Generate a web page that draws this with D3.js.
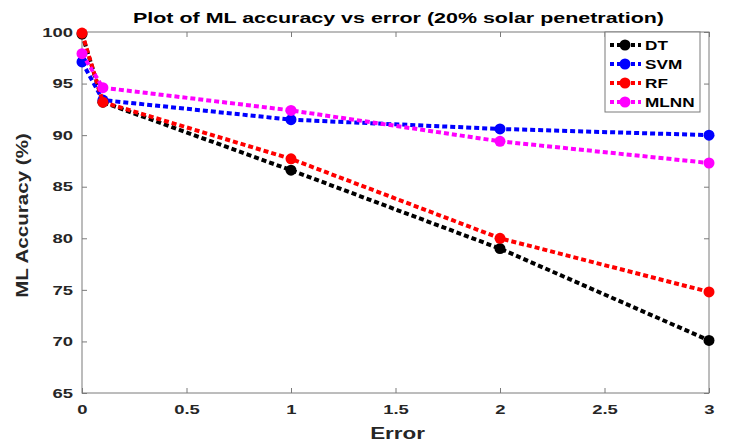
<!DOCTYPE html>
<html>
<head>
<meta charset="utf-8">
<script src="https://cdn.jsdelivr.net/npm/d3@7"></script>
<style>
  body { margin: 0; background: #fff; }
  text { font-family: "Liberation Sans", Arial, sans-serif; }
</style>
</head>
<body>
<div id="chart"></div>
<script>
var errors = [0, 0.1, 1, 2, 3],
    dtAcc = [99.8, 93.2, 86.6, 79.0, 70.1],
    svmAcc = [97.1, 93.4, 91.5, 90.6, 90.0],
    rfAcc = [99.9, 93.2, 87.7, 80.0, 74.8],
    mlnnAcc = [97.9, 94.6, 92.4, 89.4, 87.3],
    seriesNames = ["DT", "SVM", "RF", "MLNN"],
    seriesColors = ["#000000", "#0000ff", "#ff0000", "#ff00ff"],
    xTicks = [0, 0.5, 1, 1.5, 2, 2.5, 3],
    yTicks = [65, 70, 75, 80, 85, 90, 95, 100];

var outerWidth = 731, outerHeight = 443,
    margin = {left: 82, top: 32, right: 22, bottom: 50},
    width = outerWidth - margin.left - margin.right,
    height = outerHeight - margin.top - margin.bottom;

var series = [dtAcc, svmAcc, rfAcc, mlnnAcc].map(function(vals, i) {
  return {name: seriesNames[i], color: seriesColors[i],
          values: vals.map(function(v, j) { return {x: errors[j], y: v}; })};
});

var xScale = d3.scaleLinear().domain([0, 3]).range([0, width]),
    yScale = d3.scaleLinear().domain([65, 100]).range([height, 0]);

var svg = d3.select("#chart").append("svg")
    .attr("width", outerWidth)
    .attr("height", outerHeight)
  .append("g")
    .attr("transform", "translate(" + margin.left + "," + margin.top + ")");

var axisColor = "#7a7a7a", labelColor = "#262626";

// the picture is stretched sideways, so text gets a horizontal scale
function stretch(sel, s) {
  sel.each(function() {
    var t = d3.select(this), x = +t.attr("x") || 0, y = +t.attr("y") || 0;
    t.attr("x", 0).attr("y", 0)
     .attr("transform", "translate(" + x + "," + y + ") scale(" + s + ",1)");
  });
}

// box + axes with inward ticks
svg.append("rect")
    .attr("width", width).attr("height", height)
    .style("fill", "none").style("stroke", axisColor).style("stroke-width", 1);

var xAxis = d3.axisBottom(xScale).tickValues(xTicks).tickSizeInner(-5).tickSizeOuter(0).tickPadding(12)
    .tickFormat(d3.format("~g"));
var yAxis = d3.axisLeft(yScale).tickValues(yTicks).tickSizeInner(-5).tickSizeOuter(0).tickPadding(9);

svg.append("g").attr("class", "xAxis")
    .attr("transform", "translate(0," + height + ")").call(xAxis);
svg.append("g").attr("class", "yAxis").call(yAxis);
svg.append("g").attr("class", "xTop")
    .call(d3.axisTop(xScale).tickValues(xTicks).tickSizeInner(-5).tickSizeOuter(0).tickFormat(""));
svg.append("g").attr("class", "yRight")
    .attr("transform", "translate(" + width + ",0)")
    .call(d3.axisRight(yScale).tickValues(yTicks).tickSizeInner(-5).tickSizeOuter(0).tickFormat(""));

svg.selectAll(".domain").remove();
svg.selectAll(".tick line").style("stroke", axisColor);
svg.selectAll(".xAxis .tick text, .yAxis .tick text")
    .style("font-size", "13px").style("font-weight", "bold").style("fill", labelColor);
stretch(svg.selectAll(".xAxis .tick text, .yAxis .tick text"), 1.42);

// lines
var line = d3.line().x(function(d) { return xScale(d.x); }).y(function(d) { return yScale(d.y); });

var layer = svg.selectAll(".series")
    .data(series)
    .enter().append("g")
    .attr("class", "series");

layer.append("path")
    .attr("d", function(d) { return line(d.values); })
    .style("fill", "none")
    .style("stroke", function(d) { return d.color; })
    .style("stroke-width", 4)
    .style("stroke-dasharray", "5,3");

layer.selectAll(".pt")
    .data(function(d) { return d.values.map(function(v) { return {x: v.x, y: v.y, color: d.color}; }); })
    .enter().append("circle")
    .attr("class", "pt")
    .attr("cx", function(d) { return xScale(d.x); })
    .attr("cy", function(d) { return yScale(d.y); })
    .attr("r", 5.5)
    .style("fill", function(d) { return d.color; });

// title and axis labels
svg.append("text")
    .attr("x", width / 2 + 3).attr("y", -9)
    .attr("text-anchor", "middle")
    .style("font-size", "15px").style("font-weight", "bold").style("fill", "#000")
    .text("Plot of ML accuracy vs error (20% solar penetration)")
    .call(stretch, 1.43);

svg.append("text")
    .attr("x", width / 2 + 2).attr("y", height + 46)
    .attr("text-anchor", "middle")
    .style("font-size", "16px").style("font-weight", "bold").style("fill", labelColor)
    .text("Error")
    .call(stretch, 1.4);

svg.append("text")
    .attr("transform", "translate(" + (-54) + "," + (height / 2 + 3) + ") rotate(-90) scale(1.21,1)")
    .attr("text-anchor", "middle")
    .style("font-size", "17px").style("font-weight", "bold").style("fill", labelColor)
    .text("ML Accuracy (%)");

// legend
var legend = svg.append("g")
    .attr("class", "legend")
    .attr("transform", "translate(" + (width - 104) + ",0)");

legend.append("rect")
    .attr("width", 95).attr("height", 80)
    .style("fill", "#fff").style("stroke", axisColor);

var item = legend.selectAll(".item")
    .data(series)
    .enter().append("g")
    .attr("class", "item")
    .attr("transform", function(d, i) { return "translate(0," + (13 + i * 19) + ")"; });

item.append("line")
    .attr("x1", 5).attr("x2", 36)
    .style("stroke", function(d) { return d.color; })
    .style("stroke-width", 4)
    .style("stroke-dasharray", "4,3");

item.append("circle")
    .attr("cx", 20).attr("r", 5.5)
    .style("fill", function(d) { return d.color; });

item.append("text")
    .attr("x", 40).attr("y", 0).attr("dy", "0.36em")
    .style("font-size", "13px").style("font-weight", "bold").style("fill", "#000")
    .text(function(d) { return d.name; })
    .call(stretch, 1.32);
</script>
</body>
</html>
